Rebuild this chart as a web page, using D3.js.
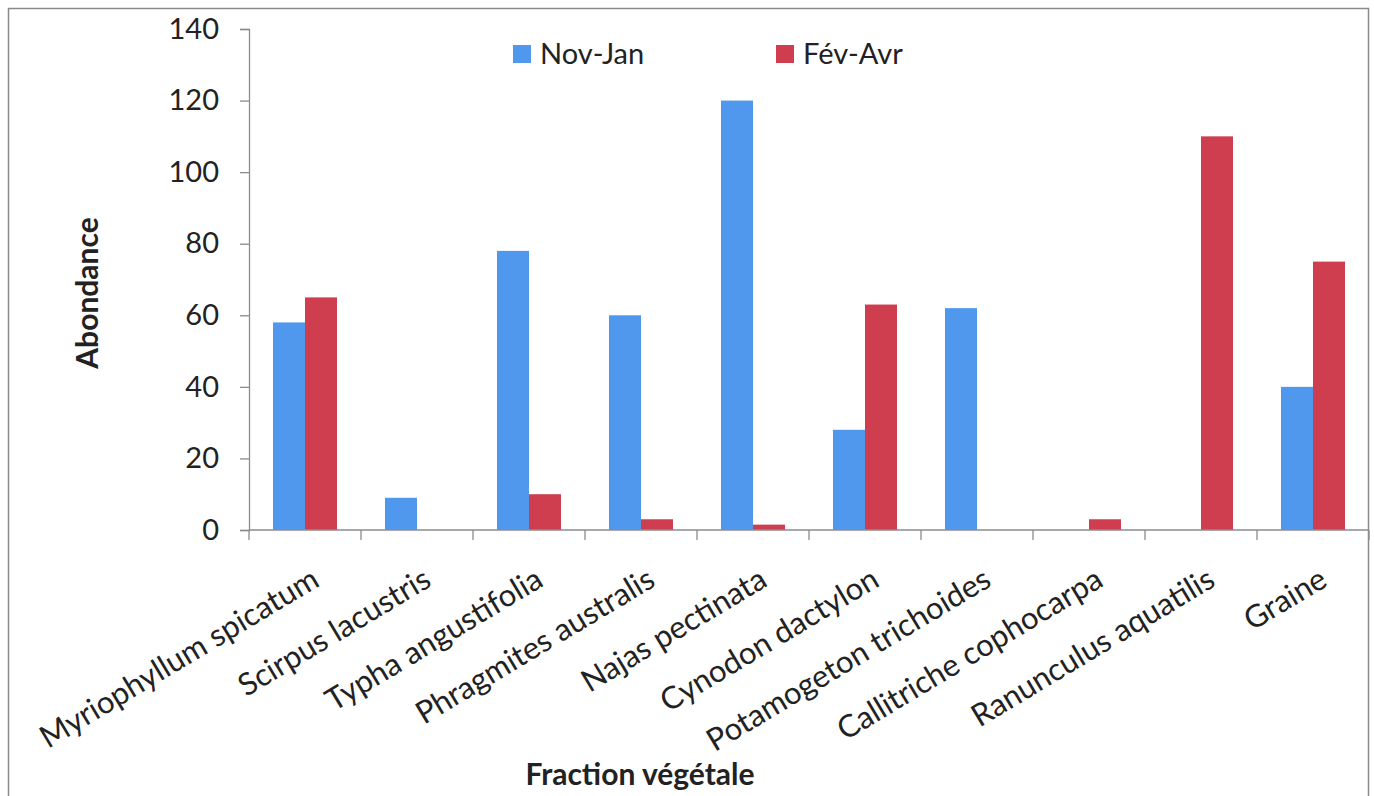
<!DOCTYPE html>
<html>
<head>
<meta charset="utf-8">
<script src="https://cdn.jsdelivr.net/npm/d3@7"></script>
<style>
  body { margin: 0; background: #fff; }
  svg text { font-family: Lato, "Open Sans", sans-serif; fill: #222; }
  .axis path, .axis line { stroke: #8c8c8c; stroke-width: 1.3; }
</style>
</head>
<body>
<div id="container"></div>
<script>
/* DATA */
const categories = [
  "Myriophyllum spicatum", "Scirpus lacustris", "Typha angustifolia",
  "Phragmites australis", "Najas pectinata", "Cynodon dactylon",
  "Potamogeton trichoides", "Callitriche cophocarpa", "Ranunculus aquatilis", "Graine"
]
const seriesNames = ["Nov-Jan", "Fév-Avr"]
const novJan = [58, 9, 78, 60, 120, 28, 62, 0, 0, 40]
const fevAvr = [65, 0, 10, 3, 1.5, 63, 0, 3, 110, 75]
const yTicks = [0, 20, 40, 60, 80, 100, 120, 140]
const colors = ["#4f98ee", "#cf3e4e"]

/* CONSTANTS */
const width = 1374,
  height = 796,
  margin = { top: 29, bottom: 266, left: 249, right: 5 }

const rows = categories.map((c, i) => ({ cat: c, vals: [novJan[i], fevAvr[i]] }))

const svg = d3.select("#container")
  .append("svg")
  .attr("width", width)
  .attr("height", height)

// outer frame
svg.append("rect")
  .attr("x", 8.5).attr("y", 8.5)
  .attr("width", 1360).attr("height", 800)
  .attr("fill", "none")
  .attr("stroke", "#8a8a8a")
  .attr("stroke-width", 1.5)

// + SCALES
const xScale = d3.scaleBand()
  .domain(categories)
  .range([margin.left, width - margin.right])

const xInner = d3.scaleBand()
  .domain(seriesNames)
  .range([24, xScale.bandwidth() - 24])

const yScale = d3.scaleLinear()
  .domain([0, 140])
  .range([height - margin.bottom, margin.top])

// BARS
const groups = svg.selectAll(".grp")
  .data(rows)
  .join("g")
  .attr("class", "grp")
  .attr("transform", d => `translate(${xScale(d.cat)}, 0)`)

groups.selectAll("rect")
  .data(d => d.vals.map((v, k) => ({ key: seriesNames[k], value: v, k })))
  .join("rect")
  .attr("x", d => xInner(d.key))
  .attr("width", xInner.bandwidth())
  .attr("y", d => yScale(d.value))
  .attr("height", d => yScale(0) - yScale(d.value))
  .attr("fill", d => colors[d.k])

// AXES
const yAxis = d3.axisLeft(yScale)
  .tickValues(yTicks)
  .tickSize(9)
  .tickPadding(21)

svg.append("g")
  .attr("class", "axis")
  .attr("transform", `translate(${margin.left}, 0)`)
  .call(yAxis)
  .call(g => g.selectAll("text").attr("font-size", 29).style("fill", "#222"))

// x axis: line plus ticks at band edges
const xAxisG = svg.append("g")
  .attr("class", "axis")
  .attr("transform", `translate(0, ${yScale(0)})`)

xAxisG.append("line")
  .attr("x1", margin.left).attr("x2", width - margin.right)
  .attr("y1", 0).attr("y2", 0)

xAxisG.selectAll(".xtick")
  .data(categories.concat(["__end"]))
  .join("line")
  .attr("class", "xtick")
  .attr("x1", (d, i) => margin.left + i * xScale.bandwidth())
  .attr("x2", (d, i) => margin.left + i * xScale.bandwidth())
  .attr("y1", 0).attr("y2", 10)

// rotated category labels
svg.selectAll(".xlabel")
  .data(categories)
  .join("text")
  .attr("class", "xlabel")
  .attr("text-anchor", "end")
  .attr("font-size", 31)
  .attr("transform", d => `translate(${xScale(d) + xScale.bandwidth() / 2 + 16}, ${yScale(0) + 55}) rotate(-31)`)
  .text(d => d)

// axis titles
svg.append("text")
  .attr("x", 640).attr("y", 785)
  .attr("text-anchor", "middle")
  .attr("font-size", 30)
  .attr("font-weight", "bold")
  .text("Fraction végétale")

svg.append("text")
  .attr("transform", `translate(98, ${293}) rotate(-90)`)
  .attr("text-anchor", "middle")
  .attr("font-size", 30)
  .attr("font-weight", "bold")
  .text("Abondance")

// LEGEND
const legend = svg.selectAll(".legend")
  .data(seriesNames)
  .join("g")
  .attr("class", "legend")
  .attr("transform", (d, i) => `translate(${[513, 776][i]}, 45)`)

legend.append("rect")
  .attr("width", 18).attr("height", 18)
  .attr("fill", (d, i) => colors[i])

legend.append("text")
  .attr("x", 27).attr("y", 19)
  .attr("font-size", 29)
  .text(d => d)
</script>
</body>
</html>
